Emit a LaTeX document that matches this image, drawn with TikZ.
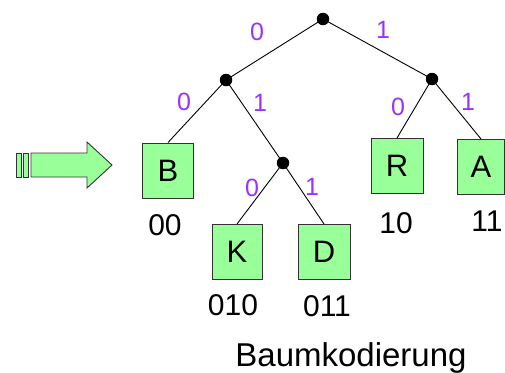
\documentclass[tikz,border=0pt]{standalone}
\usepackage{fontspec}
\setmainfont{Liberation Sans}
\definecolor{boxgreen}{RGB}{153,255,153}
\definecolor{bitpurple}{RGB}{153,51,255}
\begin{document}
\begin{tikzpicture}[x=1pt,y=-1pt,
  dot/.style={circle,fill=black,inner sep=0pt,minimum size=12.5pt},
  leaf/.style={draw=black!80,line width=1pt,fill=boxgreen,inner sep=0pt,minimum width=50pt,minimum height=55pt,font=\fontsize{31}{34}\selectfont},
  code/.style={inner sep=0pt,font=\fontsize{30}{34}\selectfont},
  bit/.style={inner sep=0pt,text=bitpurple,font=\fontsize{25}{28}\selectfont},
  edge/.style={line width=0.9pt},
  arrowpart/.style={fill=boxgreen,draw=black!80,line width=0.9pt,line join=miter}]
\useasboundingbox (0,0) rectangle (505,372);
% inner nodes
\node[dot] (root) at (323,19) {};
\node[dot] (nl) at (226,80) {};
\node[dot] (nr) at (432,79) {};
\node[dot] (nlr) at (283,163) {};
% leaves
\node[leaf,minimum width=51pt] (B) at (168,170.5) {B};
\node[leaf] (K) at (237,252) {K};
\node[leaf,minimum width=52pt] (D) at (324,252) {D};
\node[leaf,minimum width=52pt] (R) at (397,166) {R};
\node[leaf,minimum width=47pt] (A) at (481,167) {A};
% edges
\draw[edge] (root.center) -- (nl.center);
\draw[edge] (root.center) -- (nr.center);
\draw[edge] (nl.center) -- (B.north);
\draw[edge] (nl.center) -- (nlr.center);
\draw[edge] (nlr.center) -- (K.north);
\draw[edge] (nlr.center) -- (D.north);
\draw[edge] (nr.center) -- (R.north);
\draw[edge] (nr.center) -- (A.north);
% bit labels
\node[bit] (b1) at (257,32) {0};
\node[bit] (b2) at (383,30) {1};
\node[bit] (b3) at (184,102) {0};
\node[bit] (b4) at (260,103) {1};
\node[bit] (b5) at (398,107) {0};
\node[bit] (b6) at (468,102) {1};
\node[bit] (b7) at (252,188) {0};
\node[bit] (b8) at (312,187) {1};
% codes
\node[code] (cB) at (165,225.5) {00};
\node[code] (cR) at (396,223) {10};
\node[code] (cA) at (487,221) {11};
\node[code] (cK) at (233,305) {010};
\node[code] (cD) at (327,306) {011};
\node[inner sep=0pt,anchor=base,font=\fontsize{33}{36}\selectfont] (title) at (351,366) {Baumkodierung};
% arrow
\draw[arrowpart] (16,153) rectangle (21,177);
\draw[arrowpart] (23,153) rectangle (28,177);
\draw[arrowpart] (31,153) -- (87,153) -- (87,142) -- (112,165) -- (87,188) -- (87,177) -- (31,177) -- cycle;
\end{tikzpicture}
\end{document}
